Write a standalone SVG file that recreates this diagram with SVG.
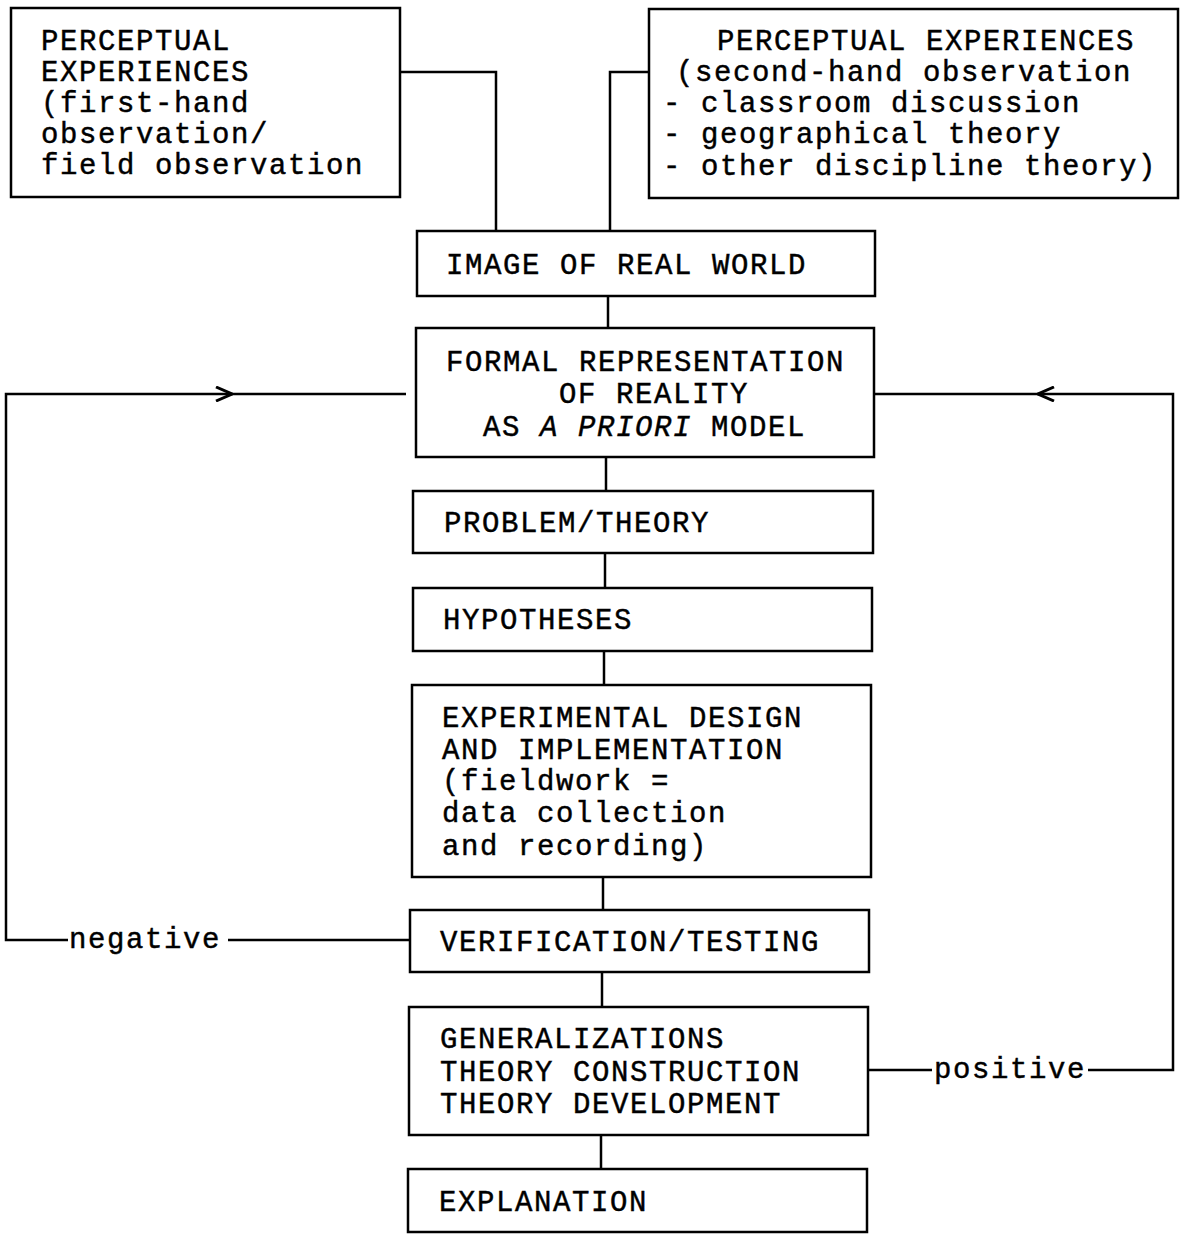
<svg xmlns="http://www.w3.org/2000/svg" width="1180" height="1234" viewBox="0 0 1180 1234">
  <style>
    .box { fill: #fff; stroke: #000; stroke-width: 2.5; }
    .wire { fill: none; stroke: #000; stroke-width: 2.5; }
    text { font-family: "Liberation Mono", "Courier New", monospace; font-size: 29px; letter-spacing: 1.6px; fill: #000; stroke: #000; stroke-width: 0.45; }
    .it { font-style: italic; }
  </style>
  <defs>
    <!-- open chevron drawn at the end of a loop segment -->
    <marker id="chev" viewBox="0 0 18 16" refX="17" refY="8" markerWidth="18" markerHeight="16" markerUnits="userSpaceOnUse" orient="auto">
      <path d="M1,1 L17,8 L1,15" fill="none" stroke="#000" stroke-width="3"/>
    </marker>
  </defs>
  <rect width="1180" height="1234" fill="#fff"/>

  <g id="connectors">
    <path class="wire" d="M400,72 H496 V231"/>
    <path class="wire" d="M649,72 H610 V231"/>
    <path class="wire" d="M608,296 V328"/>
    <path class="wire" d="M606,457 V491"/>
    <path class="wire" d="M605,553 V588"/>
    <path class="wire" d="M604,651 V685"/>
    <path class="wire" d="M603,877 V910"/>
    <path class="wire" d="M602,972 V1007"/>
    <path class="wire" d="M601,1135 V1169"/>
    <!-- negative loop -->
    <path class="wire" d="M410,940 H228"/>
    <path class="wire" d="M68,940 H6 V394 H232" marker-end="url(#chev)"/>
    <path class="wire" d="M232,394 H406"/>
    <!-- positive loop -->
    <path class="wire" d="M868,1070 H932"/>
    <path class="wire" d="M1088,1070 H1173 V394 H1038" marker-end="url(#chev)"/>
    <path class="wire" d="M1038,394 H874"/>
    <text x="69" y="948">negative</text>
    <text x="934" y="1078">positive</text>
  </g>

  <g id="first-hand">
    <rect class="box" x="11" y="8" width="389" height="189"/>
    <text x="41" y="50">PERCEPTUAL</text>
    <text x="41" y="81">EXPERIENCES</text>
    <text x="41" y="112">(first-hand</text>
    <text x="41" y="143">observation/</text>
    <text x="41" y="174">field observation</text>
  </g>

  <g id="second-hand">
    <rect class="box" x="649" y="9" width="529" height="189"/>
    <text x="717" y="50">PERCEPTUAL EXPERIENCES</text>
    <text x="676" y="81">(second-hand observation</text>
    <text x="663" y="112">- classroom discussion</text>
    <text x="663" y="143">- geographical theory</text>
    <text x="663" y="175">- other discipline theory)</text>
  </g>

  <g id="image">
    <rect class="box" x="417" y="231" width="458" height="65"/>
    <text x="446" y="274">IMAGE OF REAL WORLD</text>
  </g>

  <g id="formal">
    <rect class="box" x="416" y="328" width="458" height="129"/>
    <text x="446" y="371">FORMAL REPRESENTATION</text>
    <text x="559" y="403">OF REALITY</text>
    <text x="483" y="436">AS <tspan class="it">A PRIORI</tspan> MODEL</text>
  </g>

  <g id="problem">
    <rect class="box" x="413" y="491" width="460" height="62"/>
    <text x="444" y="532">PROBLEM/THEORY</text>
  </g>

  <g id="hypotheses">
    <rect class="box" x="413" y="588" width="459" height="63"/>
    <text x="443" y="629">HYPOTHESES</text>
  </g>

  <g id="experimental">
    <rect class="box" x="412" y="685" width="459" height="192"/>
    <text x="442" y="727">EXPERIMENTAL DESIGN</text>
    <text x="442" y="759">AND IMPLEMENTATION</text>
    <text x="442" y="790">(fieldwork =</text>
    <text x="442" y="822">data collection</text>
    <text x="442" y="855">and recording)</text>
  </g>

  <g id="verification">
    <rect class="box" x="410" y="910" width="459" height="62"/>
    <text x="440" y="951">VERIFICATION/TESTING</text>
  </g>

  <g id="generalizations">
    <rect class="box" x="409" y="1007" width="459" height="128"/>
    <text x="440" y="1048">GENERALIZATIONS</text>
    <text x="440" y="1081">THEORY CONSTRUCTION</text>
    <text x="440" y="1113">THEORY DEVELOPMENT</text>
  </g>

  <g id="explanation">
    <rect class="box" x="408" y="1169" width="459" height="63"/>
    <text x="439" y="1211">EXPLANATION</text>
  </g>
</svg>
